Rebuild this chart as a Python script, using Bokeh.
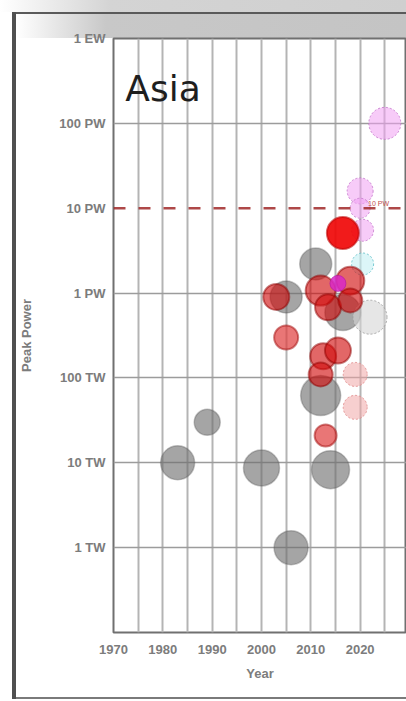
import numpy as np
from bokeh.plotting import figure
from bokeh.models import (ColumnDataSource, FixedTicker, Label, Span,
                          CustomJSTickFormatter)
from bokeh.embed import file_html
from bokeh.resources import INLINE

# ---------------- data ----------------
title_text = "Asia"
x_label = "Year"
y_label = "Peak Power"

x_tick_years = [1970, 1980, 1990, 2000, 2010, 2020]
x_grid_years = [1975, 1980, 1985, 1990, 1995, 2000, 2005, 2010, 2015, 2020, 2025]
y_tick_values = [1e12, 1e13, 1e14, 1e15, 1e16, 1e17, 1e18]
y_tick_labels = ["1 TW", "10 TW", "100 TW", "1 PW", "10 PW", "100 PW", "1 EW"]
y_grid_values = [1e12, 1e13, 1e14, 1e15, 1e17]
threshold_power = 1e16
threshold_label = "10 PW"

# operational (older) systems - grey
grey_year = [1983, 1989, 2000, 2006, 2014, 2012, 2011, 2005, 2016.5]
grey_power = [1.0e13, 3.0e13, 8.7e12, 1.0e12, 8.3e12, 6.2e13, 2.2e15, 9.0e14, 5.9e14]
grey_size = [34, 26, 36, 34, 38, 40, 32, 32, 36]

# planned, grey dashed
lgrey_year = [2022]
lgrey_power = [5.2e14]
lgrey_size = [34]

# planned, cyan dashed
cyan_year = [2020.5]
cyan_power = [2.2e15]
cyan_size = [22]

# planned, pink dashed
plan_year = [2025, 2020, 2020, 2020.5]
plan_power = [1.0e17, 1.6e16, 1.0e16, 5.5e15]
plan_size = [32, 26, 20, 22]

# under construction, light red
uc_year = [2019, 2019]
uc_power = [1.1e14, 4.5e13]
uc_size = [24, 24]

# operational, red
red_year = [2003, 2012, 2018, 2013.5, 2018, 2012.5, 2015.5, 2012]
red_power = [9.0e14, 1.07e15, 1.4e15, 6.8e14, 8.2e14, 1.8e14, 2.1e14, 1.1e14]
red_size = [26, 30, 28, 26, 24, 26, 26, 24]

# operational, lighter red
lred_year = [2005, 2013]
lred_power = [3.0e14, 2.1e13]
lred_size = [24, 22]

# newest, bright red
bred_year = [2016.5]
bred_power = [5.1e15]
bred_size = [32]

# magenta
mag_year = [2015.5]
mag_power = [1.3e15]
mag_size = [16]

# ---------------- figure ----------------
p = figure(width=406, height=701,
           x_range=(1970, 2029.4), y_range=(1e11, 1e18),
           y_axis_type="log", output_backend="svg", toolbar_location=None,
           min_border_left=113, min_border_right=0,
           min_border_top=38, min_border_bottom=69)

p.border_fill_alpha = 0
p.background_fill_color = "#ffffff"
p.outline_line_color = "#707070"
p.outline_line_width = 2

p.styles = {
    "background":
        "linear-gradient(#505050,#505050) 12px 12px / 4px 687px no-repeat,"
        "linear-gradient(#5a5a5a,#5a5a5a) 12px 12px / 394px 2px no-repeat,"
        "linear-gradient(#7a7a7a,#7a7a7a) 12px 697px / 394px 2px no-repeat,"
        "linear-gradient(to right, #ffffff 0px, #c8c8c8 90px, #c4c4c4 100%) 16px 14px / 390px 24px no-repeat,"
        "linear-gradient(to right, #ffffff 0px, #d4d4d4 110px, #cfcfcf 100%) 0px 0px / 406px 12px no-repeat,"
        "#ffffff"
}

# grid
p.xgrid.ticker = FixedTicker(ticks=x_grid_years)
p.ygrid.ticker = FixedTicker(ticks=y_grid_values)
p.xgrid.grid_line_color = "#b4b4b4"
p.xgrid.grid_line_width = 2
p.ygrid.grid_line_color = "#9c9c9c"
p.ygrid.grid_line_width = 1.5

# axes
p.xaxis.ticker = FixedTicker(ticks=x_tick_years)
p.yaxis.ticker = FixedTicker(ticks=y_tick_values)
p.yaxis.formatter = CustomJSTickFormatter(
    args=dict(vals=y_tick_values, labs=y_tick_labels),
    code="""
    let best = 0, bd = 1e9;
    for (let i = 0; i < vals.length; i++) {
        const d = Math.abs(Math.log10(vals[i]) - Math.log10(tick));
        if (d < bd) { bd = d; best = i; }
    }
    return labs[best];
    """)

for ax in (p.xaxis[0], p.yaxis[0]):
    ax.axis_line_color = None
    ax.major_tick_line_color = None
    ax.minor_tick_line_color = None
    ax.major_tick_out = 0
    ax.major_tick_in = 0
    ax.major_label_text_font = "Liberation Sans"
    ax.major_label_text_font_style = "bold"
    ax.major_label_text_color = "#7c7c7c"
    ax.major_label_text_font_size = "13px"
    ax.axis_label_text_font = "Liberation Sans"
    ax.axis_label_text_font_style = "bold"
    ax.axis_label_text_color = "#7c7c7c"
    ax.axis_label_text_font_size = "13px"

p.xaxis.axis_label = x_label
p.yaxis.axis_label = y_label
p.xaxis.major_label_standoff = 12
p.yaxis.major_label_standoff = 8
p.xaxis.axis_label_standoff = 9
p.yaxis.axis_label_standoff = 22

# threshold
p.add_layout(Span(location=threshold_power, dimension="width",
                  line_color="#a02828", line_width=2.5, line_dash="12 13",
                  line_alpha=0.85))
p.add_layout(Label(x=2021.6, y=threshold_power, text=threshold_label,
                   text_font_size="7px", text_color="#c05050",
                   text_font="Liberation Sans", y_offset=1,
                   text_baseline="bottom"))


def bubbles(xs, ys, ss, fill, falpha, line, lalpha, lwidth, dash="solid"):
    src = ColumnDataSource(dict(x=xs, y=ys, s=ss))
    p.scatter("x", "y", size="s", source=src, fill_color=fill,
              fill_alpha=falpha, line_color=line, line_alpha=lalpha,
              line_width=lwidth, line_dash=dash)


bubbles(grey_year, grey_power, grey_size, "#6e6e6e", 0.62, "#5a5a5a", 0.35, 1.5)
bubbles(lgrey_year, lgrey_power, lgrey_size, "#d6d6d6", 0.6, "#9a9a9a", 0.8, 1, "2 2")
bubbles(cyan_year, cyan_power, cyan_size, "#c4f0f4", 0.6, "#6cc4cc", 0.9, 1, "2 2")
bubbles(plan_year, plan_power, plan_size, "#f0a0f2", 0.55, "#c070c8", 0.8, 1, "2 2")
bubbles(uc_year, uc_power, uc_size, "#f0a8a8", 0.55, "#e08888", 0.8, 1, "2 2")
bubbles(lred_year, lred_power, lred_size, "#e03c3c", 0.7, "#a81818", 0.55, 2)
bubbles(red_year, red_power, red_size, "#d00a0a", 0.62, "#900000", 0.5, 2)
bubbles(bred_year, bred_power, bred_size, "#f00808", 0.92, "#c00000", 0.6, 2)
bubbles(mag_year, mag_power, mag_size, "#d828c8", 0.85, "#b010a8", 0.6, 1)

# title inside frame
p.add_layout(Label(x=1972.4, y=10 ** 17.41, text=title_text,
                   text_font="DejaVu Sans", text_font_size="36px",
                   text_color="#1e1e1e", text_baseline="alphabetic"))

open("out.html", "w").write(file_html(p, INLINE))
